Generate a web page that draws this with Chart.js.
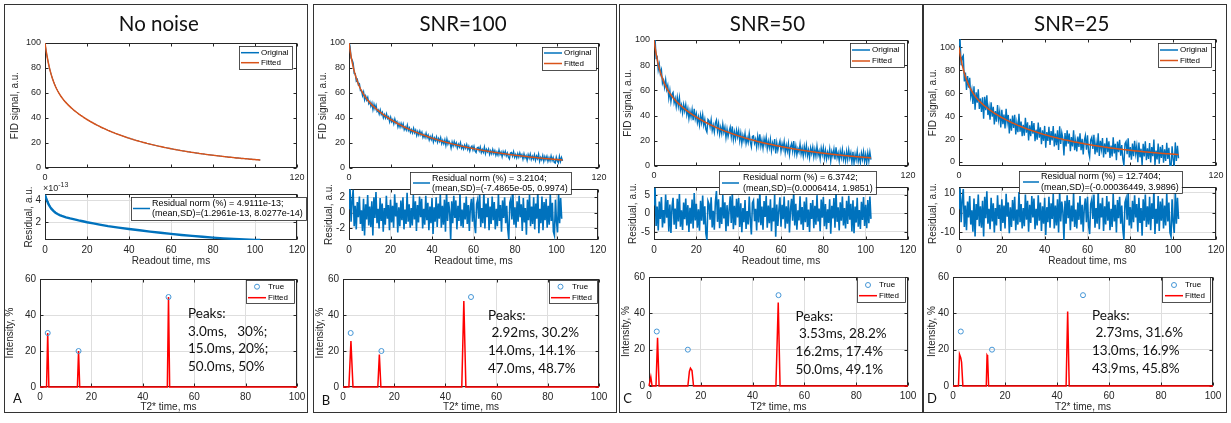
<!DOCTYPE html>
<html>
<head>
<meta charset="utf-8">
<script src="https://cdn.jsdelivr.net/npm/chart.js@4.4.1/dist/chart.umd.min.js"></script>
<style>
  body { margin: 0; width: 1231px; height: 423px; background: #fff; position: relative; overflow: hidden; }
  canvas { position: absolute; }
  .frame { position: absolute; border: 1.5px solid #333; box-sizing: border-box; }
  .title { position: absolute; font-family: Lato, "Open Sans", sans-serif; font-size: 20.5px; color: #111; transform: translate(-50%, -50%); white-space: nowrap; }
  .peaks { position: absolute; font-family: Lato, "Open Sans", sans-serif; font-size: 13.5px; line-height: 17.6px; color: #111; white-space: pre; }
  .letter { position: absolute; font-family: Lato, "Open Sans", sans-serif; font-size: 13px; color: #111; transform: translate(-50%, -50%); }
  .expo { position: absolute; font-family: "Liberation Sans", Arial, sans-serif; font-size: 9px; color: #262626; white-space: nowrap; }
  .expo sup { font-size: 7px; }
</style>
</head>
<body>
<script>
// ---- data ----
const panelTitles = ["No noise", "SNR=100", "SNR=50", "SNR=25"];
const panelLetters = ["A", "B", "C", "D"];

const readoutTimeMs = [
  0,0.5,1,1.5,2,2.5,3,3.5,4,4.5,5,5.5,6,6.5,7,7.5,8,8.5,9,9.5,
  10,10.5,11,11.5,12,12.5,13,13.5,14,14.5,15,15.5,16,16.5,17,17.5,18,18.5,19,19.5,
  20,20.5,21,21.5,22,22.5,23,23.5,24,24.5,25,25.5,26,26.5,27,27.5,28,28.5,29,29.5,
  30,30.5,31,31.5,32,32.5,33,33.5,34,34.5,35,35.5,36,36.5,37,37.5,38,38.5,39,39.5,
  40,40.5,41,41.5,42,42.5,43,43.5,44,44.5,45,45.5,46,46.5,47,47.5,48,48.5,49,49.5,
  50,50.5,51,51.5,52,52.5,53,53.5,54,54.5,55,55.5,56,56.5,57,57.5,58,58.5,59,59.5,
  60,60.5,61,61.5,62,62.5,63,63.5,64,64.5,65,65.5,66,66.5,67,67.5,68,68.5,69,69.5,
  70,70.5,71,71.5,72,72.5,73,73.5,74,74.5,75,75.5,76,76.5,77,77.5,78,78.5,79,79.5,
  80,80.5,81,81.5,82,82.5,83,83.5,84,84.5,85,85.5,86,86.5,87,87.5,88,88.5,89,89.5,
  90,90.5,91,91.5,92,92.5,93,93.5,94,94.5,95,95.5,96,96.5,97,97.5,98,98.5,99,99.5,
  100,100.5,101,101.5,102,102.5
];

const fittedFID = [
  100.0,94.2,89.2,84.8,80.9,77.5,74.5,71.8,69.4,67.2,65.2,63.4,61.8,60.3,58.9,57.6,56.4,55.3,54.2,53.2,
  52.3,51.4,50.5,49.7,48.9,48.1,47.4,46.6,45.9,45.3,44.6,44.0,43.3,42.7,42.1,41.6,41.0,40.4,39.9,39.3,
  38.8,38.3,37.8,37.3,36.8,36.4,35.9,35.4,35.0,34.5,34.1,33.7,33.3,32.8,32.4,32.0,31.7,31.3,30.9,30.5,
  30.1,29.8,29.4,29.1,28.7,28.4,28.1,27.7,27.4,27.1,26.8,26.5,26.2,25.9,25.6,25.3,25.0,24.7,24.4,24.1,
  23.9,23.6,23.3,23.1,22.8,22.5,22.3,22.0,21.8,21.6,21.3,21.1,20.9,20.6,20.4,20.2,20.0,19.7,19.5,19.3,
  19.1,18.9,18.7,18.5,18.3,18.1,17.9,17.7,17.5,17.3,17.2,17.0,16.8,16.6,16.4,16.3,16.1,15.9,15.8,15.6,
  15.4,15.3,15.1,14.9,14.8,14.6,14.5,14.3,14.2,14.0,13.9,13.7,13.6,13.5,13.3,13.2,13.0,12.9,12.8,12.6,
  12.5,12.4,12.3,12.1,12.0,11.9,11.8,11.6,11.5,11.4,11.3,11.2,11.1,10.9,10.8,10.7,10.6,10.5,10.4,10.3,
  10.2,10.1,10.0,9.9,9.8,9.7,9.6,9.5,9.4,9.3,9.2,9.1,9.0,8.9,8.8,8.7,8.7,8.6,8.5,8.4,
  8.3,8.2,8.1,8.1,8.0,7.9,7.8,7.7,7.7,7.6,7.5,7.4,7.4,7.3,7.2,7.1,7.1,7.0,6.9,6.9,
  6.8,6.7,6.7,6.6,6.5,6.5
];

const residualSNR100 = [
  0.4,3.1,-1.2,1.6,3.0,-1.8,0.9,-2.2,1.4,-0.6,2.1,-1.5,0.3,-2.4,1.8,-3.0,1.1,-0.9,2.3,-1.7,
  0.8,-1.9,1.5,-3.0,2.0,-0.7,2.7,-1.4,0.5,-2.1,1.9,-1.1,1.2,-2.5,0.6,-1.6,2.2,-0.8,1.0,-2.3,
  1.7,-1.3,0.9,-2.0,2.4,-0.5,1.3,-2.6,0.7,-1.8,1.6,-1.0,2.0,-2.2,0.4,-1.5,2.6,-1.2,1.1,-2.0,
  0.6,-1.7,2.3,-0.9,1.5,-2.4,1.0,-1.3,2.1,-0.6,1.8,-2.1,0.5,-1.6,2.2,-1.0,1.3,-2.3,0.8,-1.4,
  1.9,-2.8,0.7,-1.2,2.0,-1.9,1.2,-0.8,2.4,-2.0,0.9,-1.6,1.7,-2.5,2.7,-1.1,1.4,0.2,-3.55,1.5,
  -1.4,2.2,-0.7,1.6,-2.2,0.9,-1.1,2.5,-1.8,0.4,-2.0,1.3,-0.9,2.1,-1.5,1.0,-2.4,0.7,1.8,-1.2,
  2.0,-1.6,-2.7,1.1,1.7,-0.8,2.3,-1.9,0.6,-1.4,2.8,-2.1,1.2,-0.6,1.9,-2.3,0.8,-1.5,2.1,-1.0,
  1.4,-2.2,0.5,-1.8,2.4,-1.1,1.0,-2.5,1.6,-0.7,2.0,-1.4,0.9,-2.1,-3.5,1.3,1.8,-0.9,2.6,-1.6,
  0.7,-2.0,1.5,-1.2,2.2,-0.6,1.1,-2.4,1.9,-1.3,0.6,-2.9,1.7,-1.0,2.3,-1.8,0.8,-1.5,2.0,-2.2,
  1.2,-0.8,2.9,-2.7,0.5,-1.4,2.1,-2.3,1.4,-1.0,1.8,-2.0,0.9,-1.6,2.4,-1.1,1.3,-2.5,-3.0,1.7,
  -1.2,-2.6,2.6,-1.4,1.9,-0.8
];

const residualSNR50 = [
  2.1,6.9,-3.4,1.8,-4.6,3.2,-1.5,4.4,-3.8,0.9,-2.7,5.1,-1.2,3.6,-4.9,2.4,-5.3,1.7,4.2,-3.1,
  1.3,-4.2,3.9,-2.2,5.2,-3.6,0.8,-4.5,2.9,-1.6,4.0,-3.3,2.2,-5.0,1.5,-2.8,3.7,-4.1,5.5,-1.9,
  2.6,-3.9,1.1,-4.7,3.4,-2.0,4.8,-3.0,1.9,-5.4,-7.2,3.3,2.5,-1.7,4.3,-3.8,0.7,-4.4,3.1,6.0,
  -2.3,3.8,-4.0,1.6,-2.9,4.9,-1.4,3.0,-4.8,2.2,-3.5,1.0,4.6,-2.6,5.8,-4.3,2.0,-3.2,3.9,-1.1,
  4.1,-3.7,2.7,-5.1,1.4,-2.4,3.6,-4.2,0.6,-3.0,4.5,-1.8,-5.7,2.8,3.5,-2.1,1.2,-4.6,4.0,-2.5,
  6.0,-3.2,1.8,-4.4,3.3,-1.0,4.7,-3.9,2.1,-2.7,3.8,-4.8,1.5,-2.2,5.0,-6.3,2.4,-3.4,0.9,4.3,
  -3.6,2.3,-1.6,4.5,-4.1,1.9,-2.8,3.5,-5.2,1.2,3.9,-2.0,6.1,-3.3,2.6,-4.4,0.8,-1.9,4.6,-3.0,
  1.7,-4.5,3.2,-2.4,4.3,-3.7,1.0,-5.0,2.8,-1.5,3.6,-4.0,2.0,-3.1,4.9,-2.2,1.3,-4.8,3.7,-1.2,
  4.4,-3.5,2.5,-4.3,1.1,-2.6,3.8,-5.5,2.0,-1.4,4.1,-3.9,5.8,-2.3,1.6,-4.6,3.0,-2.0,4.5,-3.3,
  1.4,-4.1,3.4,-2.9,4.7,-1.7,2.6,-4.9,3.5,-5.4,1.8,-2.5,4.2,-3.6,0.9,-4.2,3.1,-1.8,4.4,-3.4,
  2.3,-4.0,3.6,-2.7,4.5,-1.5
];

const residualSNR25 = [
  1.6,12.4,-4.8,6.4,12.0,-7.2,3.6,-8.8,5.6,-2.4,8.4,-6.0,1.2,-9.6,7.2,-12.0,4.4,-3.6,9.2,-6.8,
  3.2,-7.6,6.0,-12.0,8.0,-2.8,10.8,-5.6,2.0,-8.4,7.6,-4.4,4.8,-10.0,2.4,-6.4,8.8,-3.2,4.0,-9.2,
  6.8,-5.2,3.6,-8.0,9.6,-2.0,5.2,-10.4,2.8,-7.2,6.4,-4.0,8.0,-8.8,1.6,-6.0,10.4,-4.8,4.4,-8.0,
  2.4,-6.8,9.2,-3.6,6.0,-9.6,4.0,-5.2,8.4,-2.4,7.2,-8.4,2.0,-6.4,8.8,-4.0,5.2,-9.2,3.2,-5.6,
  7.6,-11.2,2.8,-4.8,8.0,-7.6,4.8,-3.2,9.6,-8.0,3.6,-6.4,6.8,-10.0,10.8,-4.4,5.6,0.8,-13.8,6.0,
  -5.6,8.8,-2.8,6.4,-8.8,3.6,-4.4,10.0,-7.2,1.6,-8.0,5.2,-3.6,8.4,-6.0,4.0,-9.6,2.8,7.2,-4.8,
  8.0,-6.4,-10.8,4.4,6.8,-3.2,9.2,-7.6,2.4,-5.6,11.2,-8.4,4.8,-2.4,7.6,-9.2,3.2,-6.0,8.4,-4.0,
  5.6,-8.8,2.0,-7.2,9.6,-4.4,4.0,-10.0,6.4,-2.8,8.0,-5.6,3.6,-8.4,-13.6,5.2,7.2,-3.6,10.4,-6.4,
  2.8,-8.0,6.0,-4.8,8.8,-2.4,4.4,-9.6,7.6,-5.2,2.4,-11.6,6.8,-4.0,9.2,-7.2,3.2,-6.0,8.0,-8.8,
  4.8,-3.2,11.6,-10.8,2.0,-5.6,8.4,-9.2,5.6,-4.0,7.2,-8.0,3.6,-6.4,9.6,-4.4,5.2,-10.0,-12.0,6.8,
  -4.8,-10.2,10.4,-5.6,7.6,-3.2
];

// no-noise residual, in units of 1e-13
const residNoNoiseTime = [0,0.5,1,1.5,2,2.5,3,4,5,6,7,8,10,12,14,16,18,20,23,26,30,35,40,45,50,55,60,65,70,75,80,85,90,95,100,102.5];
const residNoNoiseE13 = [4.55,4.25,3.98,3.75,3.56,3.4,3.26,3.05,2.88,2.76,2.66,2.58,2.45,2.35,2.26,2.17,2.09,2.0,1.89,1.78,1.64,1.5,1.37,1.25,1.13,1.02,0.92,0.82,0.73,0.65,0.57,0.5,0.45,0.4,0.36,0.35];

// T2* spectra
const trueT2 = [3, 15, 50];
const trueAmp = [30, 20, 50];
const fitT2A = [0, 2.55, 3, 3.45, 14.55, 15, 15.45, 49.55, 50, 50.45, 100];
const fitAmpA = [0, 0, 30, 0, 0, 20, 0, 0, 50, 0, 0];
const fitT2B = [0, 2.3, 3.1, 3.9, 13.6, 14.2, 14.8, 46.4, 47.2, 48.0, 100];
const fitAmpB = [0, 0, 25.5, 0, 0, 18, 0, 0, 47.8, 0, 0];
const fitT2C = [0, 0.2, 0.7, 1.2, 2.7, 3.3, 3.9, 15.0, 15.6, 16.0, 16.6, 17.2, 49.0, 49.9, 50.6, 100];
const fitAmpC = [0, 0, 5, 0, 0, 26.5, 0, 0, 8, 9.8, 8.5, 0, 0, 46, 0, 0];
const fitT2D = [0, 2.1, 2.5, 3.0, 3.3, 3.8, 12.8, 13.1, 13.3, 13.7, 43.5, 44.1, 44.7, 100];
const fitAmpD = [0, 0, 17.5, 15.5, 13, 0, 0, 17, 16.5, 0, 0, 41, 0, 0];

const peakTexts = [
  ["Peaks:", "3.0ms,   30%;", "15.0ms, 20%;", "50.0ms, 50%"],
  ["Peaks:", " 2.92ms, 30.2%", "14.0ms, 14.1%", "47.0ms, 48.7%"],
  ["Peaks:", " 3.53ms, 28.2%", "16.2ms, 17.4%", "50.0ms, 49.1%"],
  ["Peaks:", " 2.73ms, 31.6%", "13.0ms, 16.9%", "43.9ms, 45.8%"]
];
const residLegendTexts = [
  ["Residual norm (%) = 4.9111e-13;", "(mean,SD)=(1.2961e-13, 8.0277e-14)"],
  ["Residual norm (%) = 3.2104;", "(mean,SD)=(-7.4865e-05, 0.9974)"],
  ["Residual norm (%) = 6.3742;", "(mean,SD)=(0.0006414, 1.9851)"],
  ["Residual norm (%) = 12.7404;", "(mean,SD)=(-0.00036449, 3.9896)"]
];

// tick labels
const readoutTicks = [0, 20, 40, 60, 80, 100, 120];
const fidTopLabels = [0, 120];
const fidTicks = [0, 20, 40, 60, 80, 100];
const residTicks = [[2, 4], [-2, 0, 2], [-5, 0, 5], [-10, 0, 10]];
const t2Ticks = [0, 20, 40, 60, 80, 100];
const intensityTicks = [0, 20, 40, 60];

// ---- look ----
const AX = "#262626", GRID = "#dedede";
const BLUE = "#0072BD", ORANGE = "#D95319", RED = "#ff0000", TRUEBLUE = "#4596d6";
const FONT = '"Liberation Sans", Arial, sans-serif';
Chart.defaults.font.family = FONT;
Chart.defaults.color = AX;
Chart.defaults.animation = false;
Chart.defaults.events = [];
Chart.defaults.plugins.legend.display = false;
Chart.defaults.plugins.tooltip.enabled = false;

// axes box + inward ticks (under the data, like MATLAB), legend on top
function decor(ox, oy, legend) {
  return {
    id: "decor",
    beforeDatasetsDraw(chart) {
      const { ctx, chartArea: a, scales } = chart;
      const L = Math.round(a.left) + 0.5, R = Math.round(a.right) - 0.5;
      const T = Math.round(a.top) + 0.5, B = Math.round(a.bottom) - 0.5;
      ctx.save();
      ctx.strokeStyle = AX;
      ctx.lineWidth = 1;
      ctx.strokeRect(L, T, R - L, B - T);
      ctx.beginPath();
      scales.x.ticks.forEach(t => {
        const p = Math.round(scales.x.getPixelForValue(t.value)) + 0.5;
        ctx.moveTo(p, B); ctx.lineTo(p, B - 3);
        ctx.moveTo(p, T); ctx.lineTo(p, T + 3);
      });
      scales.y.ticks.forEach(t => {
        const p = Math.round(scales.y.getPixelForValue(t.value)) + 0.5;
        ctx.moveTo(L, p); ctx.lineTo(L + 3, p);
        ctx.moveTo(R, p); ctx.lineTo(R - 3, p);
      });
      ctx.stroke();
      ctx.restore();
    },
    afterDatasetsDraw(chart) {
      if (!legend) return;
      const ctx = chart.ctx;
      ctx.save();
      ctx.font = legend.font + "px " + FONT;
      const tw = Math.max(...legend.texts.map(t => ctx.measureText(t.text).width));
      let [x, y, w, h] = legend.box;
      x -= ox; y -= oy;
      w = Math.max(w, legend.textX - ox - x + tw + 3);
      ctx.fillStyle = "#fff";
      ctx.fillRect(x, y, w, h);
      ctx.strokeStyle = AX;
      ctx.lineWidth = 0.8;
      ctx.strokeRect(Math.round(x) + 0.5, Math.round(y) + 0.5, Math.round(w), Math.round(h));
      legend.samples.forEach(s => {
        ctx.strokeStyle = s.color;
        if (s.kind === "marker") {
          ctx.lineWidth = 1;
          ctx.beginPath();
          ctx.arc((s.x0 + s.x1) / 2 - ox, s.y - oy, 2.5, 0, Math.PI * 2);
          ctx.stroke();
        } else {
          ctx.lineWidth = s.width;
          ctx.beginPath();
          ctx.moveTo(s.x0 - ox, s.y - oy);
          ctx.lineTo(s.x1 - ox, s.y - oy);
          ctx.stroke();
        }
      });
      ctx.fillStyle = "#000";
      ctx.textAlign = "left";
      ctx.textBaseline = "middle";
      legend.texts.forEach(t => ctx.fillText(t.text, legend.textX - ox, t.y - oy));
      ctx.restore();
    }
  };
}

function addChart(g, c) {
  const [l, t, r, b] = g.plot;
  const cx = Math.round(g.yTitleX - 6), cy = Math.round(g.top);
  const cw = r + 14 - cx, ch = Math.round(g.bottom) - cy;
  const cv = document.createElement("canvas");
  cv.width = cw; cv.height = ch;
  cv.style.left = cx + "px"; cv.style.top = cy + "px";
  document.body.appendChild(cv);
  new Chart(cv, {
    type: "line",
    data: { datasets: c.datasets },
    options: {
      responsive: false,
      devicePixelRatio: 1,
      layout: { padding: { left: 0, top: t - cy, right: 14, bottom: 0 } },
      scales: {
        x: {
          type: "linear", min: c.x.min, max: c.x.max,
          afterBuildTicks: s => { s.ticks = c.x.ticks.map(v => ({ value: v })); },
          afterFit: s => { s.height = cy + ch - b; },
          grid: { display: c.grid, color: GRID, drawTicks: false },
          border: { display: false },
          ticks: { font: { size: c.tickSize }, padding: 4, autoSkip: false, maxRotation: 0,
                   callback: c.x.label || (v => v) },
          title: { display: !!c.x.title, text: c.x.title, font: { size: 10 }, padding: 0 }
        },
        y: {
          type: "linear", min: c.y.min, max: c.y.max,
          afterBuildTicks: s => { s.ticks = c.y.ticks.map(v => ({ value: v })); },
          afterFit: s => { s.width = l - cx; },
          grid: { display: c.grid, color: GRID, drawTicks: false },
          border: { display: false },
          ticks: { font: { size: c.tickSize }, padding: 4, autoSkip: false, callback: v => v },
          title: { display: true, text: c.y.title, font: { size: 10 }, padding: 0 }
        }
      }
    },
    plugins: [decor(cx, cy, c.legend)]
  });
}

const xy = (xs, ys) => xs.map((x, i) => ({ x: x, y: ys[i] }));

// ---- layout of the 4 columns (page pixels) ----
const cols = [
  { top: [45, 43, 297, 168], topY: 15, res: [45, 194, 297, 240], resY: 29, bot: [40, 277, 297, 387], botY: 10,
    fidMin: 0, fidMax: 100, resMin: 0.35, resMax: 4.62, resTop: 182,
    topLeg: { box: [239, 46, 53, 23], rows: [52.7, 62.7], s: [241, 259], tx: 261 },
    resLeg: { box: [131, 197, 161, 23], sy: 208.5, s: [133, 150], tx: 152, rows: [204, 213.5] },
    botLeg: { box: [246, 280, 48, 23], rows: [286.7, 297.7], s: [248, 266], tx: 268 },
    peaks: [188, 305.2], title: [158.8, 23.3], letter: [17.5, 398.3],
    fit: [fitT2A, fitAmpA], resid: null },
  { top: [349, 43, 599, 168], topY: 323, res: [349, 189, 598, 240], resY: 329, bot: [343, 277, 599, 387], botY: 320,
    fidMin: 0, fidMax: 100, resMin: -3.6, resMax: 3.1, resTop: 166,
    topLeg: { box: [542, 47, 54, 23], rows: [53, 63.5], s: [544, 562], tx: 564 },
    resLeg: { box: [410, 172, 147, 22], sy: 183, s: [413, 430], tx: 432, rows: [178.5, 189] },
    botLeg: { box: [549, 280, 48, 23], rows: [286.7, 297.7], s: [551, 570], tx: 572 },
    peaks: [488, 306.8], title: [463, 23.3], letter: [326, 399.5],
    fit: [fitT2B, fitAmpB], resid: residualSNR100 },
  { top: [654, 40, 908, 166], topY: 628, res: [654, 187, 908, 240], resY: 633, bot: [649, 275, 908, 386], botY: 626,
    fidMin: 0, fidMax: 100, resMin: -7.2, resMax: 7.1, resTop: 166,
    topLeg: { box: [850, 43, 54, 24], rows: [50, 61], s: [852, 870], tx: 872 },
    resLeg: { box: [719, 171, 148, 23], sy: 183, s: [722, 739], tx: 743, rows: [177.5, 188.5] },
    botLeg: { box: [857, 277, 48, 25], rows: [285, 295.7], s: [859, 877], tx: 879 },
    peaks: [795.5, 307.8], title: [767.5, 23.3], letter: [627.5, 398],
    fit: [fitT2C, fitAmpC], resid: residualSNR50 },
  { top: [959, 39, 1216, 166], topY: 933, res: [959, 187, 1216, 240], resY: 933, bot: [953, 275, 1213, 386], botY: 932,
    fidMin: -3.5, fidMax: 107.4, resMin: -13.8, resMax: 13.0, resTop: 166,
    topLeg: { box: [1158, 43, 53, 24], rows: [50, 60.5], s: [1160, 1178], tx: 1180 },
    resLeg: { box: [1019, 171, 151, 22], sy: 182, s: [1023, 1039], tx: 1041, rows: [177, 187.5] },
    botLeg: { box: [1162, 277, 48, 25], rows: [285, 295.7], s: [1165, 1183], tx: 1185 },
    peaks: [1092, 306.8], title: [1071.7, 23.3], letter: [932, 398.3],
    fit: [fitT2D, fitAmpD], resid: residualSNR25 }
];

const frames = [[4, 4, 304, 409], [313, 4, 304, 409], [619, 4, 304, 409], [923, 4, 304, 409]];
frames.forEach(f => {
  const d = document.createElement("div");
  d.className = "frame";
  Object.assign(d.style, { left: f[0] + "px", top: f[1] + "px", width: f[2] + "px", height: f[3] + "px" });
  document.body.appendChild(d);
});

cols.forEach((k, i) => {
  // FID signal
  const original = k.resid ? fittedFID.map((v, j) => v + k.resid[j]) : fittedFID;
  addChart({ plot: k.top, yTitleX: k.topY, top: k.top[1] - 10, bottom: k.top[3] + 20 }, {
    grid: false, tickSize: 9,
    x: { min: 0, max: 120, ticks: readoutTicks, label: v => (fidTopLabels.includes(v) ? v : "") },
    y: { min: k.fidMin, max: k.fidMax, ticks: fidTicks, title: "FID signal, a.u." },
    datasets: [
      { data: xy(readoutTimeMs, fittedFID), borderColor: ORANGE, borderWidth: 1.5, pointRadius: 0, order: 0 },
      { data: xy(readoutTimeMs, original), borderColor: BLUE, borderWidth: k.resid ? 1.4 : 1, pointRadius: 0, order: 1 }
    ],
    legend: { font: 8, box: k.topLeg.box, textX: k.topLeg.tx,
      samples: [
        { kind: "line", color: BLUE, width: 1.5, x0: k.topLeg.s[0], x1: k.topLeg.s[1], y: k.topLeg.rows[0] },
        { kind: "line", color: ORANGE, width: 1.5, x0: k.topLeg.s[0], x1: k.topLeg.s[1], y: k.topLeg.rows[1] }
      ],
      texts: [{ text: "Original", y: k.topLeg.rows[0] }, { text: "Fitted", y: k.topLeg.rows[1] }] }
  });

  // residual
  const resData = k.resid ? xy(readoutTimeMs, k.resid) : xy(residNoNoiseTime, residNoNoiseE13);
  addChart({ plot: k.res, yTitleX: k.resY, top: k.resTop, bottom: 266.7 }, {
    grid: true, tickSize: 10,
    x: { min: 0, max: 120, ticks: readoutTicks, title: "Readout time, ms" },
    y: { min: k.resMin, max: k.resMax, ticks: residTicks[i], title: "Residual, a.u." },
    datasets: [{ data: resData, borderColor: BLUE, borderWidth: k.resid ? 1.6 : 2.4, pointRadius: 0 }],
    legend: { font: 9, box: k.resLeg.box, textX: k.resLeg.tx,
      samples: [{ kind: "line", color: BLUE, width: 1.5, x0: k.resLeg.s[0], x1: k.resLeg.s[1], y: k.resLeg.sy }],
      texts: [{ text: residLegendTexts[i][0], y: k.resLeg.rows[0] }, { text: residLegendTexts[i][1], y: k.resLeg.rows[1] }] }
  });

  // T2* spectrum
  addChart({ plot: k.bot, yTitleX: k.botY, top: k.bot[1] - 8, bottom: 413.3 }, {
    grid: true, tickSize: 10,
    x: { min: 0, max: 100, ticks: t2Ticks, title: "T2* time, ms" },
    y: { min: 0, max: 60, ticks: intensityTicks, title: "Intensity, %" },
    datasets: [
      { data: xy(trueT2, trueAmp), showLine: false, pointRadius: 2.5, pointBorderWidth: 1,
        pointBorderColor: TRUEBLUE, pointBackgroundColor: "rgba(255,255,255,0)", borderColor: TRUEBLUE, order: 0 },
      { data: xy(k.fit[0], k.fit[1]), borderColor: RED, borderWidth: 1.5, pointRadius: 0, clip: 2, order: 1 }
    ],
    legend: { font: 8, box: k.botLeg.box, textX: k.botLeg.tx,
      samples: [
        { kind: "marker", color: TRUEBLUE, x0: k.botLeg.s[0], x1: k.botLeg.s[1], y: k.botLeg.rows[0] },
        { kind: "line", color: RED, width: 1.5, x0: k.botLeg.s[0], x1: k.botLeg.s[1], y: k.botLeg.rows[1] }
      ],
      texts: [{ text: "True", y: k.botLeg.rows[0] }, { text: "Fitted", y: k.botLeg.rows[1] }] }
  });

  // texts
  const tt = document.createElement("div");
  tt.className = "title"; tt.textContent = panelTitles[i];
  tt.style.left = k.title[0] + "px"; tt.style.top = k.title[1] + "px";
  document.body.appendChild(tt);

  const pk = document.createElement("div");
  pk.className = "peaks"; pk.textContent = peakTexts[i].join("\n");
  pk.style.left = k.peaks[0] + "px"; pk.style.top = k.peaks[1] + "px";
  document.body.appendChild(pk);

  const lt = document.createElement("div");
  lt.className = "letter"; lt.textContent = panelLetters[i];
  lt.style.left = k.letter[0] + "px"; lt.style.top = k.letter[1] + "px";
  document.body.appendChild(lt);
});

const ex = document.createElement("div");
ex.className = "expo";
ex.innerHTML = "\u00d710<sup>-13</sup>";
ex.style.left = "43px"; ex.style.top = "181px";
document.body.appendChild(ex);
</script>
</body>
</html>
